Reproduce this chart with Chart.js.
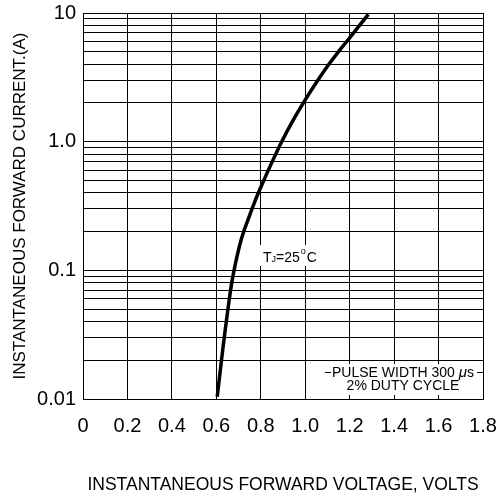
<!DOCTYPE html>
<html>
<head>
<meta charset="utf-8">
<script src="https://cdn.jsdelivr.net/npm/chart.js@4.4.0/dist/chart.umd.min.js"></script>
<style>
  html, body { margin: 0; padding: 0; background: #fff; }
  #wrap { width: 498px; height: 499px; }
</style>
</head>
<body>
<div id="wrap"><canvas id="fwdChart" width="498" height="499"></canvas></div>
<script>
// forward voltage (V) vs instantaneous forward current (A)
var voltage = [0.604, 0.617, 0.630, 0.644, 0.657, 0.671, 0.692, 0.714, 0.744, 0.774,
               0.800, 0.849, 0.894, 0.946, 1.000, 1.050, 1.100, 1.150, 1.200, 1.284];
var current = [0.0104, 0.0162, 0.0251, 0.0389, 0.0575, 0.0832, 0.126, 0.178, 0.251, 0.345,
               0.442, 0.684, 1.00, 1.47, 2.11, 2.88, 3.85, 5.01, 6.40, 9.77];

var xTicks = [0, 0.2, 0.4, 0.6, 0.8, 1.0, 1.2, 1.4, 1.6, 1.8];
var yMajor = [0.01, 0.1, 1, 10];
var yMajorLabels = ['0.01', '0.1', '1.0', '10'];
var yGrid = [0.01, 0.02, 0.03, 0.04, 0.05, 0.06, 0.07, 0.08, 0.09,
             0.1, 0.2, 0.3, 0.4, 0.5, 0.6, 0.7, 0.8, 0.9,
             1, 2, 3, 4, 5, 6, 7, 8, 9, 10];

var FONT = '"Liberation Sans", Arial, sans-serif';

var points = voltage.map(function(v, i) { return { x: v, y: current[i] }; });

// text notes inside the plot (drawn on a white box so the grid is hidden behind them)
var notesPlugin = {
  id: 'notes',
  afterDatasetsDraw: function(chart) {
    var ctx = chart.ctx;
    var sx = chart.scales.x, sy = chart.scales.y;
    ctx.save();
    ctx.textBaseline = 'alphabetic';
    ctx.fillStyle = '#000';

    // Tj = 25 C
    var x0 = sx.getPixelForValue(0.81);
    var base = sy.getPixelForValue(0.116);
    var big = '14px ' + FONT, small = '9px ' + FONT;
    ctx.font = big;
    var wT = ctx.measureText('T').width;
    var w25 = ctx.measureText('=25').width;
    var wC = ctx.measureText('C').width;
    ctx.font = small;
    var wJ = ctx.measureText('J').width;
    var wo = ctx.measureText('o').width;
    var total = wT + wJ + w25 + wo + wC + 2;
    ctx.fillStyle = '#fff';
    ctx.fillRect(x0 - 3, base - 17, total + 6, 21);
    ctx.fillStyle = '#000';
    var cx = x0;
    ctx.font = big; ctx.fillText('T', cx, base); cx += wT;
    ctx.font = small; ctx.fillText('J', cx, base); cx += wJ;
    ctx.font = big; ctx.fillText('=25', cx, base); cx += w25 + 1;
    ctx.font = small; ctx.fillText('o', cx, base - 8); cx += wo + 1;
    ctx.font = big; ctx.fillText('C', cx, base);

    // pulse width / duty cycle
    var mx = sx.getPixelForValue(1.44);
    var y1 = sy.getPixelForValue(0.0148);
    var y2 = sy.getPixelForValue(0.01175);
    ctx.font = '14px ' + FONT;
    var line1a = 'PULSE WIDTH 300 ';
    var w1a = ctx.measureText(line1a).width;
    ctx.font = 'italic 15px ' + FONT;
    var wmu = ctx.measureText('\u03bc').width;
    ctx.font = '14px ' + FONT;
    var ws = ctx.measureText('s').width;
    var w1 = w1a + wmu + ws;
    ctx.fillStyle = '#fff';
    ctx.fillRect(mx - w1 / 2 - 3, y1 - 13, w1 + 6, y2 - y1 + 18);
    ctx.fillStyle = '#000';
    ctx.strokeStyle = '#000';
    ctx.lineWidth = 1;
    var ly = Math.round(y1 - 5) + 0.5;
    ctx.beginPath();
    ctx.moveTo(mx - w1 / 2 - 7, ly);
    ctx.lineTo(mx - w1 / 2 - 1, ly);
    ctx.moveTo(mx + w1 / 2 + 3, ly);
    ctx.lineTo(sx.right, ly);
    ctx.stroke();
    var lx = mx - w1 / 2;
    ctx.fillText(line1a, lx, y1); lx += w1a;
    ctx.font = 'italic 15px ' + FONT;
    ctx.fillText('\u03bc', lx, y1); lx += wmu;
    ctx.font = '14px ' + FONT;
    ctx.fillText('s', lx, y1);
    ctx.textAlign = 'center';
    ctx.fillText('2% DUTY CYCLE', mx, y2);
    ctx.restore();
  }
};

var ctx = document.getElementById('fwdChart').getContext('2d');
var chart = new Chart(ctx, {
  type: 'scatter',
  data: {
    datasets: [{
      data: points,
      showLine: true,
      borderColor: '#000',
      borderWidth: 3.5,
      pointRadius: 0,
      cubicInterpolationMode: 'monotone',
      fill: false
    }]
  },
  options: {
    responsive: false,
    animation: false,
    layout: { padding: { top: 13, right: 15, bottom: 0, left: 0 } },
    plugins: {
      legend: { display: false },
      tooltip: { enabled: false }
    },
    scales: {
      x: {
        type: 'linear',
        min: 0,
        max: 1.8,
        afterBuildTicks: function(scale) {
          scale.ticks = xTicks.map(function(v) { return { value: v }; });
        },
        afterFit: function(scale) {
          scale.height = 100;
          scale.paddingLeft = 0;
          scale.paddingRight = 0;
        },
        grid: { color: '#000', lineWidth: 1, drawTicks: false },
        border: { color: '#000', width: 1 },
        ticks: {
          autoSkip: false,
          maxRotation: 0,
          padding: 15,
          color: '#000',
          font: { family: FONT, size: 20 },
          callback: function(v) { return v === 0 ? '0' : Number(v).toFixed(1); }
        },
        title: {
          display: true,
          text: 'INSTANTANEOUS FORWARD VOLTAGE, VOLTS',
          color: '#000',
          font: { family: FONT, size: 17.5 },
          padding: { top: 0, bottom: 3 }
        }
      },
      y: {
        type: 'logarithmic',
        min: 0.01,
        max: 10,
        afterBuildTicks: function(scale) {
          scale.ticks = yGrid.map(function(v) { return { value: v }; });
        },
        afterFit: function(scale) {
          scale.width = 83;
          scale.paddingTop = 0;
          scale.paddingBottom = 0;
        },
        grid: { color: '#000', lineWidth: 1, drawTicks: false },
        border: { color: '#000', width: 1 },
        ticks: {
          autoSkip: false,
          padding: 7,
          color: '#000',
          font: { family: FONT, size: 20 },
          callback: function(v) {
            for (var i = 0; i < yMajor.length; i++) {
              if (Math.abs(v - yMajor[i]) < yMajor[i] * 1e-6) return yMajorLabels[i];
            }
            return '';
          }
        },
        title: {
          display: true,
          text: 'INSTANTANEOUS FORWARD CURRENT.(A)',
          color: '#000',
          font: { family: FONT, size: 17 },
          padding: { top: 10, bottom: 0 }
        }
      }
    }
  },
  plugins: [notesPlugin]
});
</script>
</body>
</html>
